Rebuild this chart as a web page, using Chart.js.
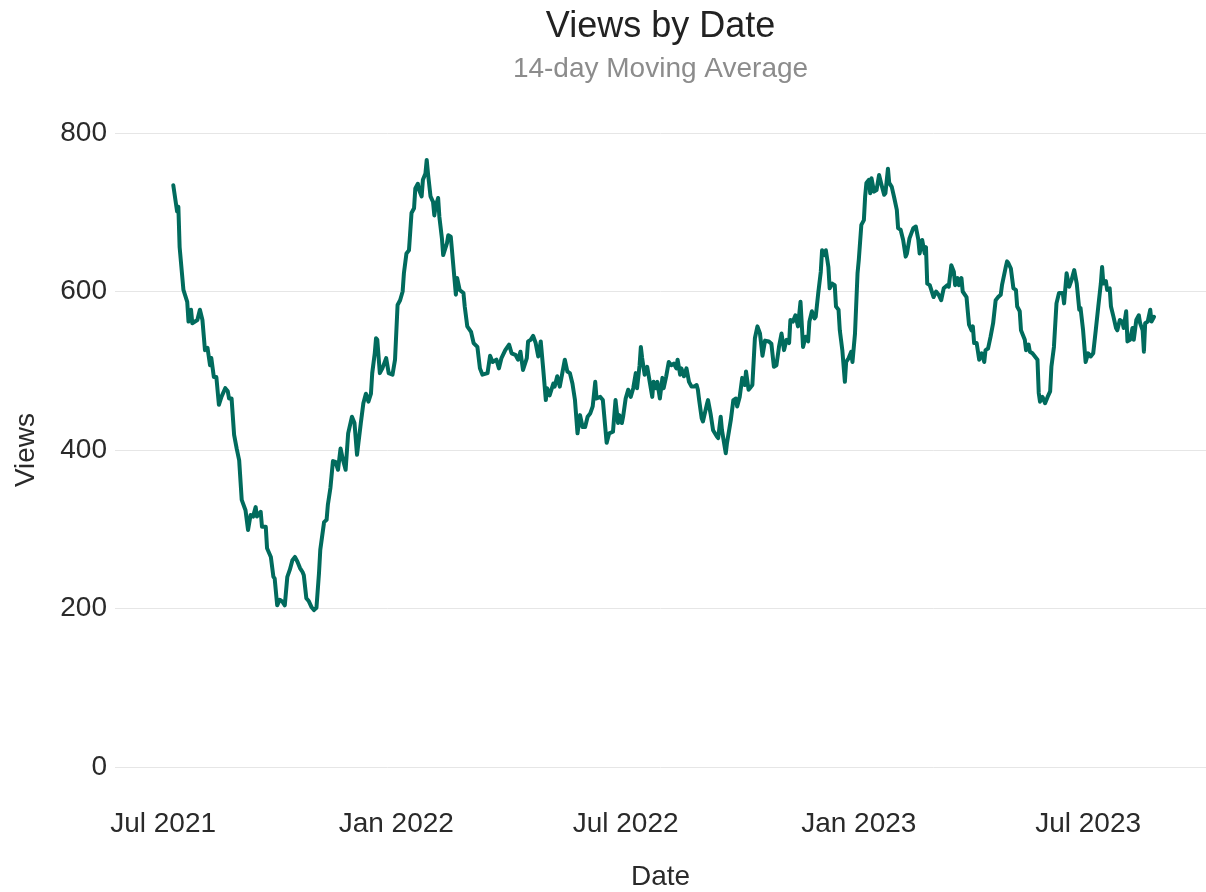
<!DOCTYPE html>
<html>
<head>
<meta charset="utf-8">
<script src="https://cdn.jsdelivr.net/npm/chart.js@4/dist/chart.umd.min.js"></script>
<style>
  html, body { margin: 0; padding: 0; background: #ffffff; }
  #wrap { width: 1206px; height: 892px; }
</style>
</head>
<body>
<div id="wrap"><canvas id="c" width="1206" height="892"></canvas></div>
<script>
// Day offsets counted from 2021-07-01
const startDate = '2021-07-01';
const dayOffsets = [
  8, 11, 12, 13, 16, 19, 20, 22, 23, 27, 29, 31, 33, 35, 37, 38, 40, 42, 44, 46,
  49, 51, 52, 54, 56, 58, 60, 62, 65, 67, 69, 71, 73, 74, 77, 78, 81, 82, 85, 87,
  88, 90, 92, 94, 96, 98, 100, 102, 104, 106, 108, 110, 111, 113, 115, 117, 119, 121, 123, 124,
  127, 129, 130, 132, 134, 136, 138, 140, 142, 144, 146, 149, 151, 153, 156, 158, 160, 162, 164, 165,
  167, 168, 169, 171, 173, 176, 178, 181, 183, 185, 187, 189, 190, 192, 194, 196, 198, 199, 201, 202,
  204, 205, 207, 208, 209, 211, 213, 214, 215, 217, 218, 220, 221, 224, 225, 227, 231, 232, 234, 237,
  238, 240, 243, 245, 248, 250, 252, 256, 258, 260, 263, 265, 267, 270, 273, 275, 278, 280, 282, 284,
  287, 288, 290, 292, 294, 296, 298, 300, 302, 303, 305, 308, 309, 311, 313, 315, 317, 319, 321, 323,
  325, 327, 329, 331, 333, 335, 337, 339, 341, 342, 345, 347, 350, 352, 355, 357, 359, 360, 362, 363,
  365, 367, 369, 371, 373, 374, 376, 377, 378, 380, 382, 384, 386, 387, 389, 390, 392, 394, 395, 397,
  399, 401, 403, 405, 406, 408, 409, 411, 413, 415, 417, 419, 421, 422, 423, 425, 426, 429, 430, 432,
  434, 437, 438, 440, 441, 444, 445, 448, 450, 452, 453, 455, 457, 459, 460, 462, 463, 465, 467, 469,
  471, 473, 475, 478, 480, 482, 484, 486, 488, 490, 492, 494, 495, 497, 499, 501, 503, 505, 507, 509,
  510, 512, 514, 515, 517, 519, 520, 522, 523, 525, 526, 528, 530, 531, 533, 534, 536, 538, 539, 541,
  543, 544, 546, 548, 549, 551, 553, 554, 555, 557, 558, 559, 561, 563, 565, 567, 569, 570, 572, 573,
  575, 577, 579, 580, 582, 584, 586, 587, 589, 592, 594, 596, 597, 599, 601, 602, 603, 605, 608, 610,
  612, 614, 616, 619, 620, 622, 624, 625, 627, 628, 630, 631, 634, 635, 636, 638, 639, 640, 642, 644,
  646, 648, 649, 651, 653, 655, 657, 659, 661, 662, 665, 666, 667, 669, 671, 673, 674, 676, 677, 680,
  681, 683, 684, 686, 688, 690, 691, 692, 694, 696, 698, 700, 701, 703, 705, 707, 710, 711, 713, 715,
  717, 719, 721, 723, 724, 726, 728, 730, 732, 734, 736, 738, 740, 741, 742, 744, 745, 747, 748, 750,
  752, 753, 755, 757, 758, 760, 761, 763, 765, 766, 768, 770, 771, 773, 774, 775, 777, 779, 780, 782
];
const views = [
  734, 701, 707, 656, 602, 587, 562, 577, 560, 564, 577, 564, 526, 529, 507, 516, 492, 492, 457, 467,
  478, 474, 465, 465, 419, 402, 387, 337, 324, 299, 318, 316, 328, 316, 322, 303, 303, 276, 265, 240,
  238, 204, 211, 209, 204, 240, 249, 261, 265, 259, 251, 246, 242, 213, 209, 202, 198, 201, 245, 274,
  309, 312, 331, 352, 386, 385, 375, 402, 387, 375, 421, 442, 434, 394, 434, 459, 471, 461, 471, 497,
  522, 541, 539, 497, 503, 516, 497, 495, 514, 583, 589, 600, 623, 648, 652, 699, 705, 730, 736, 728,
  720, 741, 749, 766, 749, 720, 713, 696, 707, 718, 694, 667, 646, 661, 671, 669, 596, 617, 602, 598,
  581, 556, 549, 535, 530, 503, 495, 497, 519, 511, 514, 503, 516, 526, 533, 522, 520, 514, 524, 501,
  516, 537, 539, 544, 535, 518, 537, 501, 463, 478, 469, 484, 480, 493, 480, 497, 514, 499, 497, 484,
  463, 421, 444, 429, 429, 442, 446, 455, 486, 465, 467, 463, 409, 421, 423, 463, 434, 444, 434, 442,
  465, 476, 467, 478, 497, 478, 507, 530, 516, 495, 505, 486, 467, 486, 478, 486, 465, 491, 478, 493,
  511, 507, 509, 503, 514, 495, 503, 493, 503, 486, 480, 480, 482, 476, 463, 440, 436, 457, 463, 446,
  425, 417, 415, 442, 425, 396, 409, 438, 463, 465, 455, 467, 491, 482, 499, 476, 478, 482, 541, 556,
  547, 519, 538, 537, 534, 505, 507, 530, 547, 526, 539, 535, 564, 562, 570, 556, 587, 530, 543, 537,
  562, 575, 566, 568, 598, 625, 652, 646, 652, 631, 604, 610, 608, 581, 577, 551, 526, 486, 511, 516,
  524, 511, 547, 623, 640, 684, 690, 720, 737, 741, 724, 743, 726, 728, 747, 734, 722, 724, 755, 737,
  732, 718, 703, 680, 678, 665, 644, 648, 667, 680, 682, 665, 648, 665, 648, 656, 610, 608, 593, 600,
  596, 589, 604, 608, 606, 633, 625, 608, 617, 608, 617, 600, 593, 575, 558, 551, 556, 535, 535, 514,
  522, 511, 526, 528, 543, 560, 589, 593, 596, 608, 631, 638, 636, 629, 604, 602, 581, 575, 551, 539,
  526, 533, 524, 522, 518, 514, 472, 461, 467, 459, 467, 474, 505, 530, 585, 598, 598, 585, 623, 606,
  615, 627, 610, 577, 579, 551, 511, 522, 518, 522, 551, 581, 610, 631, 610, 613, 602, 604, 581, 568,
  554, 551, 564, 562, 554, 575, 537, 539, 554, 539, 564, 570, 560, 551, 524, 560, 562, 577, 562, 568
];
const xTickDays = [0, 184, 365, 549, 730];
const xTickLabels = ['Jul 2021', 'Jan 2022', 'Jul 2022', 'Jan 2023', 'Jul 2023'];
const yTickValues = [0, 200, 400, 600, 800];

const FONT = '"Liberation Sans", Arial, Helvetica, sans-serif';
const points = dayOffsets.map((d, i) => ({ x: d, y: views[i] }));

new Chart(document.getElementById('c'), {
  type: 'line',
  data: {
    datasets: [{
      label: 'Views',
      data: points,
      borderColor: '#016B5D',
      borderWidth: 4,
      borderJoinStyle: 'round',
      borderCapStyle: 'round',
      pointRadius: 0,
      tension: 0,
      fill: false
    }]
  },
  options: {
    responsive: false,
    animation: false,
    devicePixelRatio: 1,
    layout: { padding: { top: 0, right: 0, bottom: 0, left: 0 } },
    plugins: {
      legend: { display: false },
      tooltip: { enabled: false },
      title: {
        display: true,
        text: 'Views by Date',
        fullSize: false,
        color: '#222222',
        font: { family: FONT, size: 36, weight: 'normal' },
        padding: { top: 5, bottom: 0 }
      },
      subtitle: {
        display: true,
        text: '14-day Moving Average',
        fullSize: false,
        color: '#8c8c8c',
        font: { family: FONT, size: 28, weight: 'normal' },
        padding: { top: 4, bottom: 47.2 }
      }
    },
    scales: {
      x: {
        type: 'linear',
        min: -38,
        max: 823,
        grid: { display: false, drawTicks: false },
        border: { display: false },
        afterBuildTicks: (scale) => { scale.ticks = xTickDays.map(v => ({ value: v })); },
        afterFit: (scale) => { scale.height = 125; },
        ticks: {
          autoSkip: false,
          maxRotation: 0,
          padding: 40,
          color: '#2a2a2a',
          font: { family: FONT, size: 28 },
          callback: (value, index) => xTickLabels[index]
        },
        title: {
          display: true,
          text: 'Date',
          color: '#2a2a2a',
          font: { family: FONT, size: 28 },
          padding: { top: 0, bottom: -2 }
        }
      },
      y: {
        type: 'linear',
        min: 0,
        max: 800,
        grid: { color: '#e6e6e6', lineWidth: 1, drawTicks: false },
        border: { display: false },
        afterBuildTicks: (scale) => { scale.ticks = yTickValues.map(v => ({ value: v })); },
        afterFit: (scale) => { scale.width = 115; },
        ticks: {
          padding: 8,
          color: '#2a2a2a',
          font: { family: FONT, size: 28 },
          callback: (value) => String(value)
        },
        title: {
          display: true,
          text: 'Views',
          color: '#2a2a2a',
          font: { family: FONT, size: 28 },
          padding: { top: 9, bottom: 0 }
        }
      }
    }
  }
});
</script>
</body>
</html>
